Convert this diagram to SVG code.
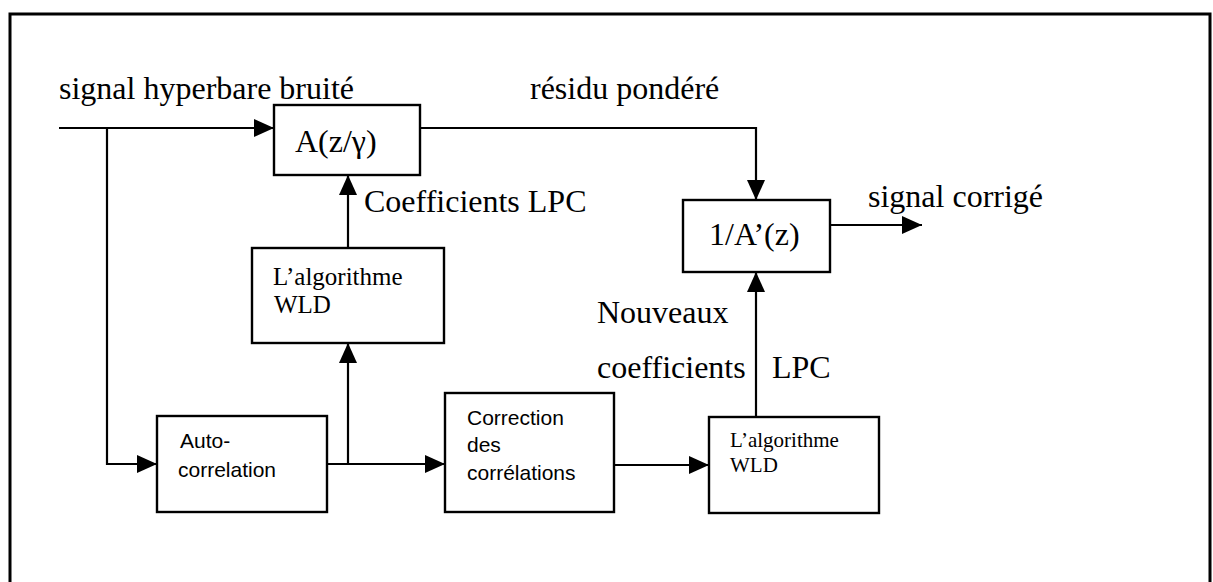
<svg xmlns="http://www.w3.org/2000/svg" width="1213" height="582" viewBox="0 0 1213 582">
  <style>
    .box { fill: #fff; stroke: #000; stroke-width: 2.4; }
    .wire { fill: none; stroke: #000; stroke-width: 2.2; }
    .lbl { font-family: "Liberation Serif", "Times New Roman", serif; font-size: 32px; fill: #000; }
    .mid { font-family: "Liberation Serif", "Times New Roman", serif; font-size: 25px; fill: #000; }
    .sm { font-family: "Liberation Serif", "Times New Roman", serif; font-size: 21px; fill: #000; }
    .sans { font-family: "Liberation Sans", Arial, sans-serif; font-size: 21px; fill: #000; }
  </style>
  <defs>
    <marker id="arrow" markerUnits="userSpaceOnUse" markerWidth="22" markerHeight="20" refX="20" refY="9" orient="auto">
      <path d="M0 0 L20 9 L0 18 Z" fill="#000"/>
    </marker>
  </defs>

  <rect width="1213" height="582" fill="#fff"/>

  <!-- outer frame -->
  <path d="M10 590 V14 H1210 V590" fill="none" stroke="#000" stroke-width="3"/>

  <!-- connectors -->
  <g id="connectors" class="wire">
    <path d="M59 128 H274" marker-end="url(#arrow)"/>
    <path d="M107 128 V464 H157" marker-end="url(#arrow)"/>
    <path d="M420 128 H756 V200" marker-end="url(#arrow)"/>
    <path d="M830 225 H922" marker-end="url(#arrow)"/>
    <path d="M348 248 V175" marker-end="url(#arrow)"/>
    <path d="M327 464 H445" marker-end="url(#arrow)"/>
    <path d="M348 464 V343" marker-end="url(#arrow)"/>
    <path d="M614 465 H709" marker-end="url(#arrow)"/>
    <path d="M756 417 V272" marker-end="url(#arrow)"/>
  </g>

  <!-- signal labels -->
  <g id="labels">
    <text class="lbl" x="59" y="99">signal hyperbare bruité</text>
    <text class="lbl" x="530" y="99">résidu pondéré</text>
    <text class="lbl" x="364" y="212">Coefficients LPC</text>
    <text class="lbl" x="868" y="207">signal corrigé</text>
    <text class="lbl" x="597" y="323">Nouveaux</text>
    <text class="lbl" x="597" y="378">coefficients</text>
    <text class="lbl" x="772" y="378">LPC</text>
  </g>

  <!-- weighting filter -->
  <g id="node-a">
    <rect class="box" x="274" y="105" width="146" height="70"/>
    <text class="lbl" x="295" y="152">A(z/γ)</text>
  </g>

  <!-- synthesis filter -->
  <g id="node-inv-a">
    <rect class="box" x="683" y="200" width="147" height="72"/>
    <text class="lbl" x="709" y="245">1/A’(z)</text>
  </g>

  <!-- WLD on the noisy signal -->
  <g id="node-wld1">
    <rect class="box" x="252" y="248" width="192" height="95"/>
    <text class="mid" x="273" y="285">L’algorithme</text>
    <text class="mid" x="274" y="313">WLD</text>
  </g>

  <!-- autocorrelation -->
  <g id="node-auto">
    <rect class="box" x="157" y="416" width="170" height="96"/>
    <text class="sans" x="180" y="448">Auto-</text>
    <text class="sans" x="178" y="477">correlation</text>
  </g>

  <!-- correlation correction -->
  <g id="node-correction">
    <rect class="box" x="445" y="393" width="169" height="119"/>
    <text class="sans" x="467" y="425">Correction</text>
    <text class="sans" x="467" y="452">des</text>
    <text class="sans" x="467" y="480">corrélations</text>
  </g>

  <!-- WLD on corrected correlations -->
  <g id="node-wld2">
    <rect class="box" x="709" y="417" width="170" height="96"/>
    <text class="sm" x="730" y="447">L’algorithme</text>
    <text class="sm" x="730" y="472">WLD</text>
  </g>
</svg>
